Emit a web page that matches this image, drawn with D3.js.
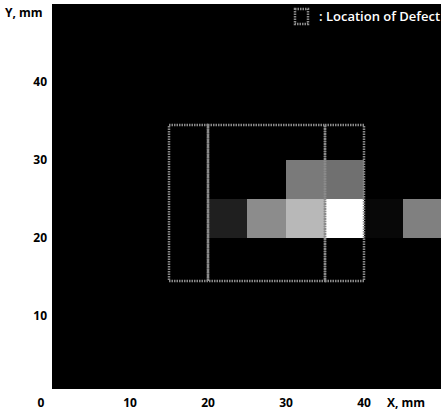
<!DOCTYPE html>
<html lang="en">

<head>
    <meta charset="UTF-8">
    <title>Location of Defect</title>
    <script src="https://d3js.org/d3.v7.min.js"></script>
    <style>
        body {
            margin: 0;
            background: white;
        }

        svg {
            display: block;
        }

        text {
            font-family: "Open Sans", sans-serif;
            font-weight: bold;
            font-size: 12px;
        }

        .defect {
            fill: none;
            stroke: #8a8a8a;
            stroke-width: 2.5;
            stroke-dasharray: 1.5 1;
        }
    </style>
</head>

<body>
    <script>

        // cells (lower-left corner, mm) and their brightness 0..1
        const cellX = [20, 25, 30, 35, 40, 45, 30, 35]
        const cellY = [20, 20, 20, 20, 20, 20, 25, 25]
        const cellLevel = [0.12, 0.55, 0.72, 1.0, 0.03, 0.5, 0.48, 0.44]
        const cellSize = 5

        // defect outlines, mm
        const defectX0 = [15, 20, 35]
        const defectX1 = [20, 35, 40]
        const defectY0 = [14.5, 14.5, 14.5]
        const defectY1 = [34.5, 34.5, 34.5]

        const xTicks = [10, 20, 30, 40]
        const yTicks = [10, 20, 30, 40]

        const width = 441
        const height = 411

        let svg = d3.select("body").append("svg")
            .attr("width", width)
            .attr("height", height)

        let x = d3.scaleLinear().domain([0, 50]).range([52, 442])
        let y = d3.scaleLinear().domain([0, 50]).range([394, 4])
        let grey = d3.scaleLinear().domain([0, 1]).range(["#000000", "#ffffff"])

        // black plot area
        svg.append("rect")
            .attr("x", x(0))
            .attr("y", y(50))
            .attr("width", width - x(0))
            .attr("height", 389 - y(50))
            .attr("fill", "black")

        let cells = cellX.map((d, i) => ({ x: d, y: cellY[i], v: cellLevel[i] }))

        svg.selectAll(".cell")
            .data(cells)
            .enter()
            .append("rect")
            .attr("class", "cell")
            .attr("x", d => x(d.x))
            .attr("y", d => y(d.y + cellSize))
            .attr("width", d => x(d.x + cellSize) - x(d.x))
            .attr("height", d => y(d.y) - y(d.y + cellSize))
            .attr("fill", d => grey(d.v))

        let defects = defectX0.map((d, i) => ({ x0: d, x1: defectX1[i], y0: defectY0[i], y1: defectY1[i] }))

        svg.selectAll(".defect")
            .data(defects)
            .enter()
            .append("rect")
            .attr("class", "defect")
            .attr("x", d => x(d.x0))
            .attr("y", d => y(d.y1))
            .attr("width", d => x(d.x1) - x(d.x0))
            .attr("height", d => y(d.y0) - y(d.y1))

        // tick labels
        svg.selectAll(".xlab")
            .data(xTicks)
            .enter()
            .append("text")
            .attr("x", d => x(d))
            .attr("y", 407)
            .attr("text-anchor", "middle")
            .text(d => d)

        svg.selectAll(".ylab")
            .data(yTicks)
            .enter()
            .append("text")
            .attr("x", 47)
            .attr("y", d => y(d) + 4)
            .attr("text-anchor", "end")
            .text(d => d)

        svg.append("text").attr("x", 41).attr("y", 407).attr("text-anchor", "middle").text("0")
        svg.append("text").attr("x", 5).attr("y", 17).text("Y, mm")
        svg.append("text").attr("x", 387).attr("y", 407).text("X, mm")

        // legend
        svg.append("rect")
            .attr("class", "defect")
            .attr("x", 295)
            .attr("y", 9)
            .attr("width", 13)
            .attr("height", 15)
            .attr("stroke-width", 1.5)
        svg.append("text")
            .attr("x", 319)
            .attr("y", 21)
            .attr("fill", "white")
            .style("font-weight", "600")
            .style("font-size", "13px")
            .text(": Location of Defect")

    </script>
</body>

</html>
